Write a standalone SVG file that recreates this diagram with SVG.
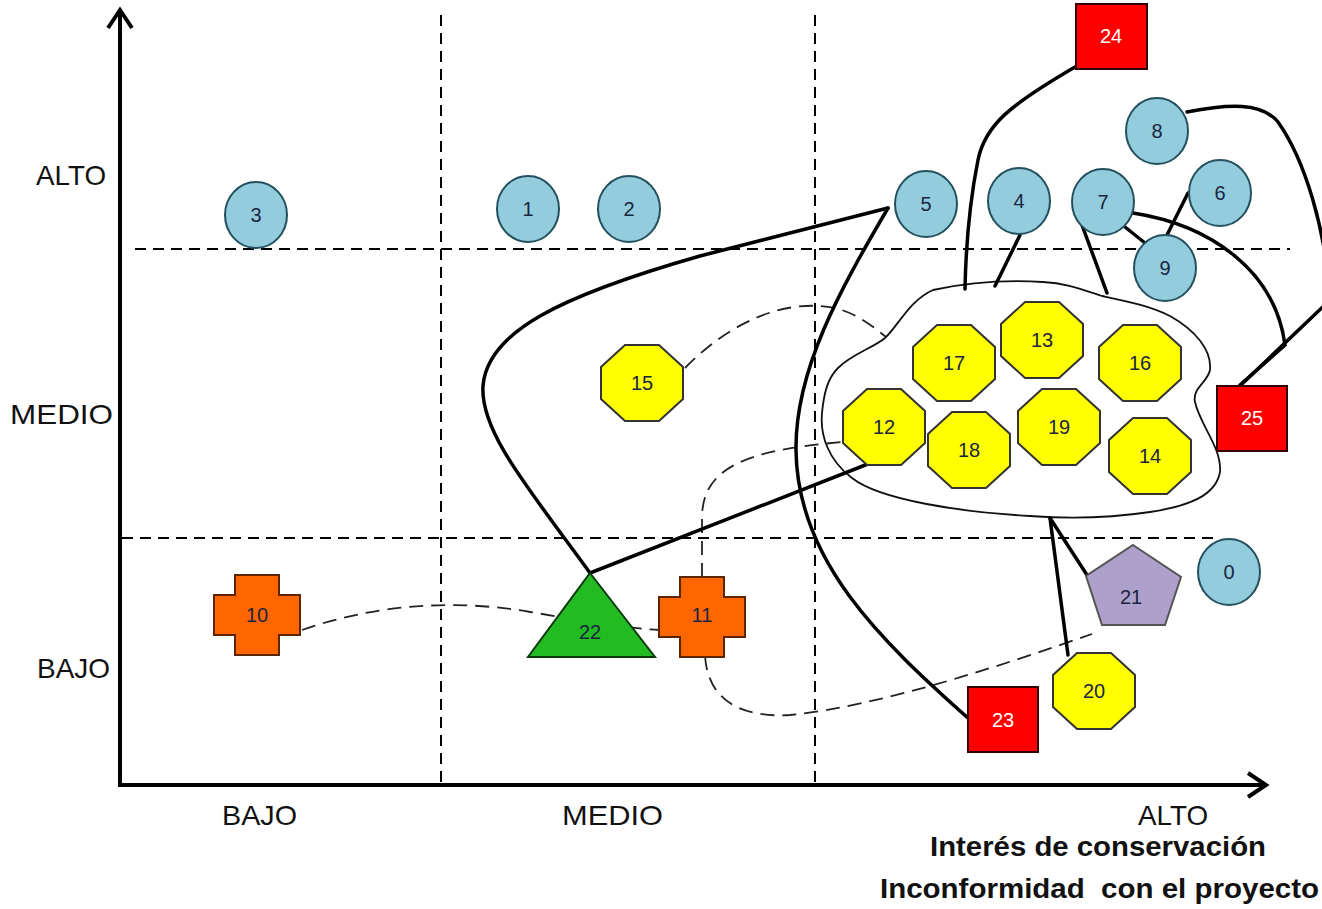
<svg xmlns="http://www.w3.org/2000/svg" width="1322" height="909" viewBox="0 0 1322 909">
<style>
.axis{stroke:#000;stroke-width:4;fill:none}
.grid{stroke:#000;stroke-width:2;stroke-dasharray:11 7;fill:none}
.lbl{font-family:"Liberation Sans",Arial,sans-serif;font-size:28px;fill:#111}
.ttl{font-family:"Liberation Sans",Arial,sans-serif;font-size:27px;font-weight:bold;fill:#111;white-space:pre}
.circ{fill:#93CDDD;stroke:#24505E;stroke-width:2}
.oct{fill:#FFFF00;stroke:#333;stroke-width:2}
.sq{fill:#FF0000;stroke:#300;stroke-width:2}
.crs{fill:#FF6600;stroke:#5A2600;stroke-width:2}
.tri{fill:#22BB22;stroke:#0A3A0A;stroke-width:2}
.pen{fill:#ADA0CB;stroke:#555;stroke-width:2}
.t{font-family:"Liberation Sans",Arial,sans-serif;font-size:20px;text-anchor:middle;dominant-baseline:central;fill:#1A2540}
.tw{fill:#FFFFFF}
.solid{stroke:#000;stroke-width:3.5;fill:none;stroke-linecap:round}
.dash{stroke:#222;stroke-width:1.8;stroke-dasharray:14 8;fill:none}
.blob{stroke:#111;stroke-width:1.8;fill:#FFFFFF}
</style>
<defs>
<polygon id="octShape" points="-17,-38 17,-38 41,-16 41,16 17,38 -17,38 -41,16 -41,-16"/>
<polygon id="crossShape" points="-22,-40 22,-40 22,-20 43,-20 43,20 22,20 22,40 -22,40 -22,20 -43,20 -43,-20 -22,-20"/>
</defs>
<rect width="1322" height="909" fill="#FFFFFF"/>

<g id="grid">
<line class="grid" x1="441" y1="15" x2="441" y2="783"/>
<line class="grid" x1="815" y1="15" x2="815" y2="783"/>
<line class="grid" x1="135" y1="249" x2="1290" y2="249"/>
<line class="grid" x1="122" y1="538" x2="1215" y2="538"/>
</g>

<g id="axes">
<line class="axis" x1="120" y1="787" x2="120" y2="10"/>
<polyline class="axis" points="108,28 120,10 132,28"/>
<line class="axis" x1="118" y1="785" x2="1266" y2="785"/>
<polyline class="axis" points="1248,773 1266,785 1248,797"/>
<text class="lbl" x="36" y="185" textLength="70" lengthAdjust="spacingAndGlyphs">ALTO</text>
<text class="lbl" x="10" y="424" textLength="103" lengthAdjust="spacingAndGlyphs">MEDIO</text>
<text class="lbl" x="37" y="678" textLength="73" lengthAdjust="spacingAndGlyphs">BAJO</text>
<text class="lbl" x="222" y="825" textLength="75" lengthAdjust="spacingAndGlyphs">BAJO</text>
<text class="lbl" x="562" y="825" textLength="101" lengthAdjust="spacingAndGlyphs">MEDIO</text>
<text class="lbl" x="1138" y="825" textLength="70" lengthAdjust="spacingAndGlyphs">ALTO</text>
<text class="ttl" x="930" y="856" textLength="336" lengthAdjust="spacingAndGlyphs">Interés de conservación</text>
<text class="ttl" x="880" y="898" textLength="439" lengthAdjust="spacingAndGlyphs" xml:space="preserve">Inconformidad  con el proyecto</text>
</g>

<g id="blob">
<path class="blob" d="M933,290 C970,282 1010,280 1043,282 C1065,283 1078,288 1102,296 C1130,302 1150,306 1170,316 C1195,330 1212,350 1210,370 C1208,382 1192,388 1195,402 C1200,425 1222,448 1220,472 C1216,495 1190,506 1150,512 C1110,518 1070,519 1030,516 C960,512 880,500 852,478 C828,460 820,435 822,413 C824,392 828,378 838,368 C852,354 873,348 885,338 C898,326 910,300 933,290 Z"/>
</g>

<g id="connectors">
<path class="dash" d="M685,368 C730,322 785,298 835,308 C858,314 872,326 886,337"/>
<path class="dash" d="M302,630 C370,606 450,598 530,612 C580,620 620,628 660,630"/>
<path class="dash" d="M702,577 L702,515 C704,468 745,450 843,442"/>
<path class="dash" d="M705,656 C708,700 740,718 790,715 C880,706 1000,666 1092,634"/>
<path class="solid" d="M1075,67 C1010,105 985,125 978,160 C970,200 966,240 965,289"/>
<line class="solid" x1="1020" y1="235" x2="995" y2="286"/>
<line class="solid" x1="1082" y1="225" x2="1107" y2="293"/>
<line class="solid" x1="1125" y1="227" x2="1145" y2="243"/>
<line class="solid" x1="1188" y1="193" x2="1167" y2="235"/>
<path class="solid" d="M1133,213 C1210,225 1275,270 1285,345 L1240,385"/>
<path class="solid" d="M1187,112 C1228,104 1262,102 1278,122 C1305,160 1326,230 1330,300 L1242,384"/>
<path class="solid" d="M590,573 C530,490 480,432 483,386 C487,332 560,296 700,256 L888,208"/>
<path class="solid" d="M888,208 C840,290 795,370 796,450 C797,560 880,640 968,718"/>
<line class="solid" x1="590" y1="573" x2="878" y2="460"/>
<line class="solid" x1="1050" y1="518" x2="1068" y2="655"/>
<line class="solid" x1="1050" y1="518" x2="1087" y2="575"/>
</g>

<g id="n3"><ellipse class="circ" cx="256" cy="215" rx="31" ry="33"/><text class="t" x="256" y="215">3</text></g>
<g id="n1"><ellipse class="circ" cx="528" cy="209" rx="31" ry="33"/><text class="t" x="528" y="209">1</text></g>
<g id="n2"><ellipse class="circ" cx="629" cy="209" rx="31" ry="33"/><text class="t" x="629" y="209">2</text></g>
<g id="n5"><ellipse class="circ" cx="926" cy="204" rx="31" ry="33"/><text class="t" x="926" y="204">5</text></g>
<g id="n4"><ellipse class="circ" cx="1019" cy="201" rx="31" ry="33"/><text class="t" x="1019" y="201">4</text></g>
<g id="n7"><ellipse class="circ" cx="1103" cy="202" rx="31" ry="33"/><text class="t" x="1103" y="202">7</text></g>
<g id="n8"><ellipse class="circ" cx="1157" cy="131" rx="31" ry="33"/><text class="t" x="1157" y="131">8</text></g>
<g id="n6"><ellipse class="circ" cx="1220" cy="193" rx="31" ry="33"/><text class="t" x="1220" y="193">6</text></g>
<g id="n9"><ellipse class="circ" cx="1165" cy="268" rx="31" ry="33"/><text class="t" x="1165" y="268">9</text></g>
<g id="n0"><ellipse class="circ" cx="1229" cy="572" rx="31" ry="33"/><text class="t" x="1229" y="572">0</text></g>

<g id="n17"><use href="#octShape" class="oct" x="954" y="363"/><text class="t" x="954" y="363">17</text></g>
<g id="n13"><use href="#octShape" class="oct" x="1042" y="340"/><text class="t" x="1042" y="340">13</text></g>
<g id="n16"><use href="#octShape" class="oct" x="1140" y="363"/><text class="t" x="1140" y="363">16</text></g>
<g id="n12"><use href="#octShape" class="oct" x="884" y="427"/><text class="t" x="884" y="427">12</text></g>
<g id="n18"><use href="#octShape" class="oct" x="969" y="450"/><text class="t" x="969" y="450">18</text></g>
<g id="n19"><use href="#octShape" class="oct" x="1059" y="427"/><text class="t" x="1059" y="427">19</text></g>
<g id="n14"><use href="#octShape" class="oct" x="1150" y="456"/><text class="t" x="1150" y="456">14</text></g>
<g id="n15"><use href="#octShape" class="oct" x="642" y="383"/><text class="t" x="642" y="383">15</text></g>
<g id="n20"><use href="#octShape" class="oct" x="1094" y="691"/><text class="t" x="1094" y="691">20</text></g>

<g id="n24"><rect class="sq" x="1076" y="4" width="71" height="65"/><text class="t tw" x="1111" y="36">24</text></g>
<g id="n25"><rect class="sq" x="1217" y="386" width="70" height="65"/><text class="t tw" x="1252" y="418">25</text></g>
<g id="n23"><rect class="sq" x="968" y="687" width="70" height="65"/><text class="t tw" x="1003" y="720">23</text></g>

<g id="n10"><use href="#crossShape" class="crs" x="257" y="615"/><text class="t" x="257" y="615">10</text></g>
<g id="n11"><use href="#crossShape" class="crs" x="702" y="617"/><text class="t" x="702" y="615">11</text></g>

<g id="n22"><polygon class="tri" points="590,573 655,657 528,657"/><text class="t" x="590" y="632">22</text></g>
<g id="n21"><polygon class="pen" points="1133,545 1181,577 1165,625 1102,625 1086,576"/><text class="t" x="1131" y="597">21</text></g>
</svg>
